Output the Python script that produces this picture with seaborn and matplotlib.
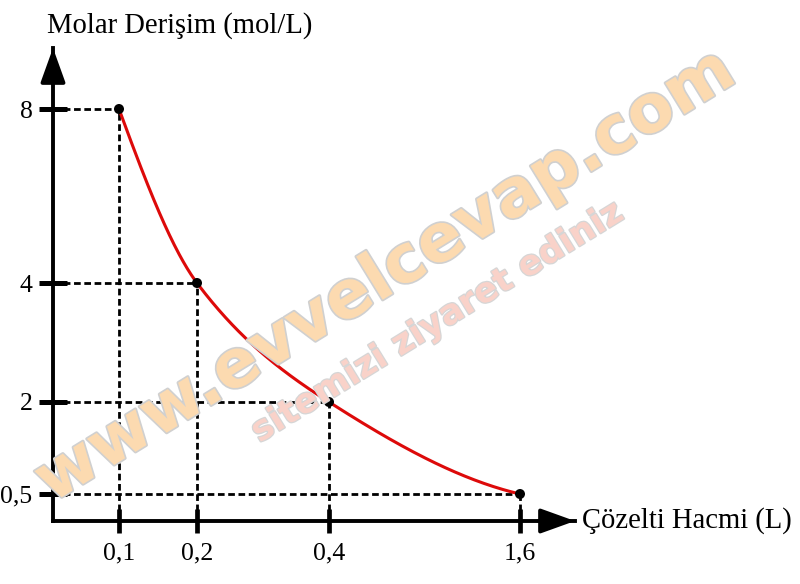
import numpy as np
import matplotlib
matplotlib.use("Agg")
import matplotlib.pyplot as plt
import matplotlib.patheffects as pe
import seaborn as sns
import pandas as pd

# ---- data ----
volume = [0.1, 0.2, 0.4, 1.6]          # Çözelti Hacmi (L)
molarity = [8, 4, 2, 0.5]              # Molar Derişim (mol/L)
x_tick_labels = ["0,1", "0,2", "0,4", "1,6"]
y_tick_labels = ["8", "4", "2", "0,5"]
x_title = "Çözelti Hacmi (L)"
y_title = "Molar Derişim (mol/L)"
watermark_main = "www.evvelcevap.com"
watermark_sub = "sitemizi ziyaret ediniz"

df = pd.DataFrame({"V": volume, "M": molarity})

# ---- layout (schematic, non-uniform axis spacing; pixel positions) ----
W, H = 800, 584
x_knots = [0] + volume
x_pos = [53, 119, 197, 329, 520]
y_knots = [0] + sorted(molarity)
y_pos = [H - 521, H - 494, H - 402, H - 283, H - 109]
x_tip, y_tip = 575, H - 48


def make_scale(knots, pos):
    k = np.asarray(knots, float)
    p = np.asarray(pos, float)

    def _map(v, a, b):
        v = np.asarray(v, float)
        out = np.interp(v, a, b)
        lo = v < a[0]
        hi = v > a[-1]
        out = np.where(lo, b[0] + (v - a[0]) * (b[1] - b[0]) / (a[1] - a[0]), out)
        out = np.where(hi, b[-1] + (v - a[-1]) * (b[-1] - b[-2]) / (a[-1] - a[-2]), out)
        return out

    return (lambda v: _map(v, k, p)), (lambda u: _map(u, p, k))


def pchip_path(px, py, n=80):
    """Monotone cubic (Fritsch-Carlson) rendering of a line through points."""
    px = np.asarray(px, float)
    py = np.asarray(py, float)
    h = np.diff(px)
    d = np.diff(py) / h
    m = np.zeros_like(py)
    for k in range(1, len(px) - 1):
        if d[k - 1] * d[k] <= 0:
            m[k] = 0
        else:
            w1 = 2 * h[k] + h[k - 1]
            w2 = h[k] + 2 * h[k - 1]
            m[k] = (w1 + w2) / (w1 / d[k - 1] + w2 / d[k])

    def end(h0, h1, d0, d1):
        s = ((2 * h0 + h1) * d0 - h0 * d1) / (h0 + h1)
        if np.sign(s) != np.sign(d0):
            s = 0
        elif np.sign(d0) != np.sign(d1) and abs(s) > abs(3 * d0):
            s = 3 * d0
        return s

    m[0] = end(h[0], h[1], d[0], d[1])
    m[-1] = end(h[-1], h[-2], d[-1], d[-2])
    xs, ys = [], []
    t = np.linspace(0, 1, n)
    for k in range(len(px) - 1):
        h00 = 2 * t**3 - 3 * t**2 + 1
        h10 = t**3 - 2 * t**2 + t
        h01 = -2 * t**3 + 3 * t**2
        h11 = t**3 - t**2
        xs.append(px[k] + t * h[k])
        ys.append(h00 * py[k] + h10 * h[k] * m[k] + h01 * py[k + 1] + h11 * h[k] * m[k + 1])
    return np.concatenate(xs), np.concatenate(ys)


fx, ix = make_scale(x_knots, x_pos)
fy, iy = make_scale(y_knots, y_pos)

sns.set_theme(style="white")
plt.rcParams["font.family"] = ["Liberation Serif", "DejaVu Serif"]

fig = plt.figure(figsize=(W / 100, H / 100), dpi=100)
ax = fig.add_axes([x_pos[0] / W, y_pos[0] / H,
                   (x_tip - x_pos[0]) / W, (y_tip - y_pos[0]) / H])
ax.set_xscale("function", functions=(fx, ix))
ax.set_yscale("function", functions=(fy, iy))
ax.set_xlim(0, float(ix(x_tip)))
ax.set_ylim(0, float(iy(y_tip)))
ax.patch.set_alpha(0)

# watermark
fig.text(385 / W, 1 - 276 / H, watermark_main, rotation=31.6, ha="center", va="center",
         rotation_mode="anchor", fontsize=48, fontweight="bold", family="DejaVu Sans",
         color="#fcdab0", zorder=0,
         path_effects=[pe.withStroke(linewidth=2.4, foreground="#d0d0d0")])
fig.text(437 / W, 1 - 322 / H, watermark_sub, rotation=31.6, ha="center", va="center",
         rotation_mode="anchor", fontsize=25, fontweight="bold", family="DejaVu Sans",
         color="#f9d2c9", zorder=0,
         path_effects=[pe.withStroke(linewidth=1.8, foreground="#d6d6d6")])

# dashed guide lines
for v, m in zip(volume, molarity):
    ax.plot([0, v], [m, m], color="black", lw=2.0, dashes=(2.4, 1.3), zorder=1, clip_on=False)
    ax.plot([v, v], [0, m], color="black", lw=2.0, dashes=(2.4, 1.3), zorder=1, clip_on=False)

# smooth line through the data points, rendered in axis (display) space
cx, cy = pchip_path(fx(df["V"].values), fy(df["M"].values))
ax.plot(ix(cx), iy(cy), color="#dd0a0a", lw=2.2, zorder=2, solid_capstyle="round")

sns.scatterplot(data=df, x="V", y="M", ax=ax, color="black", s=52, zorder=3,
                edgecolor="none", clip_on=False, legend=False)

# axes
for side in ["top", "right"]:
    ax.spines[side].set_visible(False)
for side in ["left", "bottom"]:
    ax.spines[side].set_linewidth(2.8)
    ax.spines[side].set_color("black")
    ax.spines[side].set_zorder(4)

ax.set_xticks(volume)
ax.set_xticklabels(x_tick_labels)
ax.set_yticks(molarity)
ax.set_yticklabels(y_tick_labels)
ax.tick_params(axis="y", direction="inout", length=19.5, width=3.6, pad=5.0,
               labelsize=18.5, colors="black", left=True)
ax.tick_params(axis="x", direction="inout", length=17.3, width=3.4, pad=6.5,
               labelsize=18.5, colors="black", bottom=True)
ax.set_xlabel("")
ax.set_ylabel("")

# arrow heads
arrow_kw = dict(arrowstyle="-|>,head_length=1.0,head_width=0.36",
                mutation_scale=21, color="black", lw=2.8, shrinkA=0, shrinkB=0)
ax.annotate("", xy=(1, 0), xycoords="axes fraction", xytext=(0.93, 0),
            arrowprops=arrow_kw, zorder=5, annotation_clip=False)
ax.annotate("", xy=(0, 1), xycoords="axes fraction", xytext=(0, 0.93),
            arrowprops=arrow_kw, zorder=5, annotation_clip=False)

# axis titles
fig.text(47 / W, 1 - 33 / H, y_title, ha="left", va="baseline", fontsize=20.6, color="black")
fig.text(582 / W, 1 - 521 / H, x_title, ha="left", va="center", fontsize=20.6, color="black")

fig.savefig("out.png", dpi=100)
